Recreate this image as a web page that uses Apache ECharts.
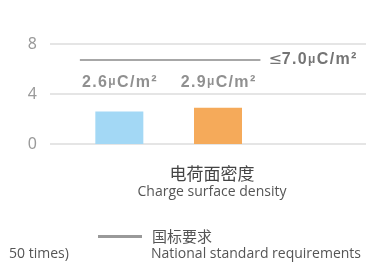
<!DOCTYPE html>
<html><head><meta charset="utf-8">
<script src="https://cdn.jsdelivr.net/npm/echarts@6/dist/echarts.min.js"></script>
<style>html,body{margin:0;padding:0;background:#fff}#c{width:366px;height:265px}</style>
</head><body><div id="c"></div>
<script>
// ---- data ----
const categories = ['A', 'B', 'C'];
const barValues = [2.6, 2.9, null];
const barColors = ['#a3d8f5', '#f5aa5a'];
const valueLabels = ['2.6', '2.9'];
const unitText = 'C/m²';
const yTicks = [0, 4, 8];
const standardValue = 6.72;           // drawn level of national standard line
const standardSpan = [0.1, 1.93];     // span of the standard line along the category scale
const standardLabel = '7.0';
const labelLevel = 4.95;               // level where value labels sit
const titleCN = '电荷面密度';
const titleEN = 'Charge surface density';
const legendCN = '国标要求';
const legendEN = 'National standard requirements';
const cutText = '50 times)';

const HS = '\u200A';
const spaced = s => s.split('').join(HS);
const chart = echarts.init(document.getElementById('c'), null, {renderer: 'canvas'});
const greyBold = {fontFamily: 'Liberation Sans', fontWeight: 'bold', color: '#747474'};
const rich = {
  n: Object.assign({fontSize: 16}, greyBold),
  u: Object.assign({fontSize: 12}, greyBold),
  le: {fontFamily: 'DejaVu Sans', fontSize: 16, color: '#747474'}
};
const labelText = v => '{n|' + spaced(v) + HS + '}{u|μ}{n|' + HS + spaced(unitText) + '}';
chart.setOption({
  animation: false,
  grid: [
    {left: 50, right: -20, top: 44, bottom: 121},
    {left: 70, width: 298.5, top: 44, bottom: 121}
  ],
  xAxis: [
    {gridIndex: 0, type: 'category', data: categories, show: false},
    {gridIndex: 1, type: 'category', data: categories, show: false},
    {gridIndex: 1, type: 'value', min: 0, max: 3, show: false}
  ],
  yAxis: [
    {gridIndex: 0, type: 'value', min: yTicks[0], max: yTicks[yTicks.length - 1], interval: 4,
      axisLine: {show: false}, axisTick: {show: false},
      splitLine: {lineStyle: {color: '#dcdcdc', width: 1.5}},
      axisLabel: {margin: 13, fontSize: 16, color: '#9a9a9a', fontFamily: 'Noto Sans', padding: [3, 0, 0, 0]}},
    {gridIndex: 1, type: 'value', min: 0, max: 8, show: false}
  ],
  title: [
    {text: titleCN, left: 207, top: 160, textAlign: 'center',
      textStyle: {fontSize: 17, fontWeight: 'normal', color: '#444', fontFamily: 'Noto Sans CJK SC'}},
    {text: titleEN, left: 207, top: 180, textAlign: 'center',
      textStyle: {fontSize: 14, fontWeight: 'normal', color: '#555', fontFamily: 'Open Sans'}},
    {text: legendEN, left: 146, top: 242,
      textStyle: {fontSize: 14, fontWeight: 'normal', color: '#555', fontFamily: 'Open Sans'}},
    {text: cutText, left: 4, top: 242,
      textStyle: {fontSize: 14, fontWeight: 'normal', color: '#555', fontFamily: 'Open Sans'}}
  ],
  legend: {
    left: 93, top: 224, itemWidth: 44, itemHeight: 3,
    data: [{name: legendCN, icon: 'rect', itemStyle: {color: '#999'}}],
    textStyle: {fontSize: 15, color: '#555', fontFamily: 'Noto Sans CJK SC', padding: [0, 0, 0, 5]}
  },
  series: [
    {type: 'bar', xAxisIndex: 1, yAxisIndex: 1, barWidth: 48,
      data: barValues.map((v, i) => ({value: v, itemStyle: {color: barColors[i]}}))},
    {type: 'scatter', xAxisIndex: 1, yAxisIndex: 1, symbolSize: 0, silent: true,
      data: valueLabels.map((t, i) => [i, labelLevel]),
      label: {show: true, position: 'inside',
        formatter: p => labelText(valueLabels[p.dataIndex]), rich: rich}},
    {type: 'line', name: legendCN, xAxisIndex: 2, yAxisIndex: 1, symbol: 'none',
      lineStyle: {color: '#8a8a8a', width: 1.5},
      data: [[standardSpan[0], standardValue], [standardSpan[1], standardValue]],
      endLabel: {show: true, distance: 8,
        formatter: '{le|≤}' + labelText(standardLabel), rich: rich}}
  ]
});
</script></body></html>
